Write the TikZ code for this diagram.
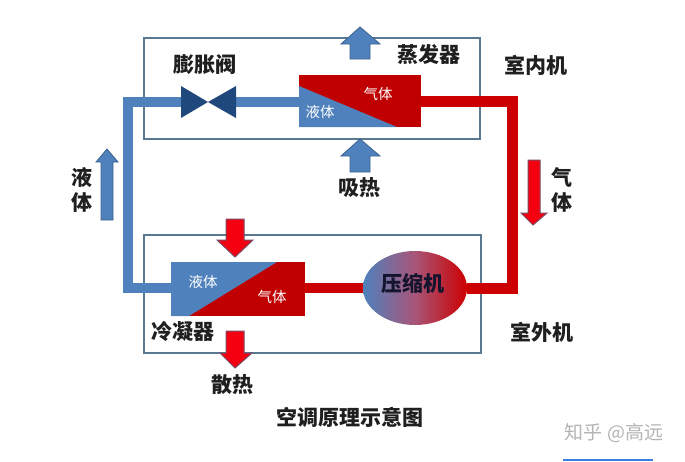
\documentclass[tikz,border=0pt]{standalone}
\usepackage{fontspec}
\setmainfont{Noto Sans CJK SC}
\usetikzlibrary{shapes.geometric}
\definecolor{pipeblue}{HTML}{4F81BD}
\definecolor{pipered}{HTML}{CC0000}
\definecolor{unitred}{HTML}{C00000}
\definecolor{valveblue}{HTML}{1F497D}
\definecolor{boxline}{HTML}{5A7890}
\definecolor{arrowred}{HTML}{F40010}
\definecolor{arrowedge}{HTML}{7A4A66}
\definecolor{markgrey}{HTML}{B4B4B4}
\definecolor{markblue}{HTML}{3A7FE0}
\definecolor{midmix}{HTML}{A85578}
\definecolor{comptext}{HTML}{14142E}
\tikzset{
  unitbox/.style={draw=boxline,line width=1.4pt},
  bluepipe/.style={draw=pipeblue,line width=10.5pt,line join=miter},
  redpipe/.style={draw=pipered,line width=11pt,line join=miter},
  uparrow/.style={fill=pipeblue,draw=pipeblue!75!black,line width=0.8pt},
  downarrow/.style={fill=arrowred,draw=arrowedge,line width=1pt},
  bigtext/.style={font=\fontsize{21}{22}\selectfont\bfseries,text=black!88,inner sep=0pt},
  tallstack/.style={align=center,font=\fontsize{21}{25}\selectfont\bfseries},
  smalltext/.style={font=\fontsize{14.5}{16}\selectfont,text=white,inner sep=0pt},
  anchorbox/.style={inner sep=0pt,minimum width=#1,minimum height=1pt},
}
\begin{document}
\begin{tikzpicture}[x=1pt,y=-1pt]
\useasboundingbox (0,0) rectangle (685,461);
% units
\draw[unitbox] (144,38) rectangle (480,139);
\draw[unitbox] (144,235) rectangle (481,353);
% anchors
\node[anchorbox=122] (evapL) at (360,102) {};
\node[anchorbox=122] (evapR) at (360,101) {};
\node[anchorbox=134] (condL) at (238,288) {};
\node[anchorbox=134] (condR) at (238,288) {};
\coordinate (valveL) at (190,102);
\coordinate (valveR) at (228,102);
\coordinate (cornerB1) at (128,102);
\coordinate (cornerB2) at (128,288);
\coordinate (cornerR1) at (512,101);
\coordinate (cornerR2) at (512,288);
% compressor
\node[ellipse,minimum width=104pt,minimum height=74pt,inner sep=0pt,left color=pipeblue,right color=pipered,middle color=midmix] (comp) at (415,288) {};
% pipes
\draw[bluepipe] (valveL) -- (cornerB1) -- (cornerB2) -- (condL.west);
\draw[bluepipe] (valveR) -- (evapL.west);
\draw[redpipe] (evapR.east) -- (cornerR1) -- (cornerR2) -- (comp.east);
\draw[draw=pipered,line width=10.5pt] (condR.east) -- (comp.west);
% evaporator
\fill[unitred] (299,75) rectangle (421,127);
\fill[pipeblue] (299,86) -- (397,127) -- (299,127) -- cycle;
% condenser
\fill[unitred] (171,262) rectangle (305,316);
\fill[pipeblue] (171,262) -- (277,262) -- (189,316) -- (171,316) -- cycle;
% valve
\fill[valveblue] (181,86) -- (208,102) -- (181,118) -- cycle;
\fill[valveblue] (236,86) -- (208,102) -- (236,118) -- cycle;
% arrows
\draw[uparrow] (360,27) -- (380,44) -- (370,44) -- (370,59) -- (350,59) -- (350,44) -- (341,44) -- cycle;
\draw[uparrow] (360,139) -- (380,156) -- (370,156) -- (370,172) -- (350,172) -- (350,156) -- (341,156) -- cycle;
\draw[uparrow] (107,149) -- (118,162) -- (113,162) -- (113,220) -- (101,220) -- (101,162) -- (96,162) -- cycle;
\draw[downarrow] (533,225) -- (547,213) -- (540,213) -- (540,160) -- (528,160) -- (528,213) -- (521,213) -- cycle;
\draw[downarrow] (235,257) -- (253,240) -- (244,240) -- (244,219) -- (226,219) -- (226,240) -- (217,240) -- cycle;
\draw[downarrow] (235,368) -- (252,353) -- (244,353) -- (244,331) -- (226,331) -- (226,353) -- (220,353) -- cycle;
% labels
\node[bigtext] (t1) at (205,65) {膨胀阀};
\node[bigtext] (t2) at (429,54) {蒸发器};
\node[bigtext] (t3) at (536,65) {室内机};
\node[bigtext] (t4) at (359,188) {吸热};
\node[bigtext,tallstack] (t5) at (82,190) {液\\体};
\node[bigtext,tallstack] (t6) at (562,190) {气\\体};
\node[bigtext] (t7) at (183,332) {冷凝器};
\node[bigtext] (t8) at (232,385) {散热};
\node[bigtext] (t9) at (542,332) {室外机};
\node[bigtext,text=comptext] (t10) at (413,283) {压缩机};
\node[bigtext] (t11) at (350,417) {空调原理示意图};
\node[smalltext] (s1) at (320,112) {液体};
\node[smalltext] (s2) at (378,94) {气体};
\node[smalltext] (s3) at (203,282) {液体};
\node[smalltext] (s4) at (272,297) {气体};
\node[inner sep=0pt,text=markgrey,font=\fontsize{19}{20}\selectfont] (w) at (614,433) {知乎 @高远};
\draw[markblue,line width=1.5pt] (563,460.2) -- (653,460.2);
\end{tikzpicture}
\end{document}
